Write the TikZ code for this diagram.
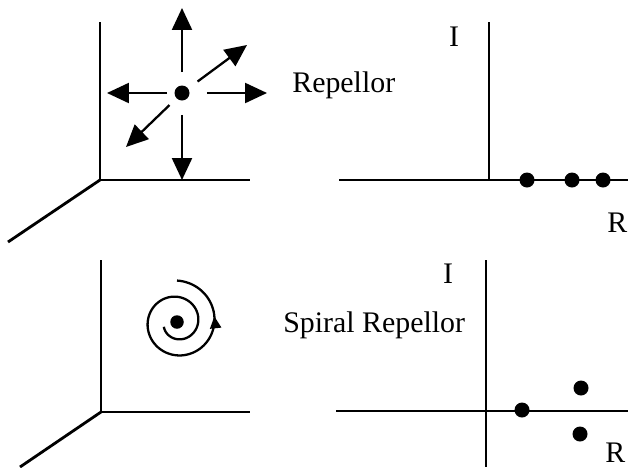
\documentclass[tikz,border=0pt]{standalone}
\usepackage{fontspec}
\setmainfont{Liberation Serif}
\usetikzlibrary{arrows.meta,positioning,decorations.markings}

\begin{document}
\begin{tikzpicture}[x=0.02cm,y=-0.02cm,
  axis/.style={line width=1.6pt},
  vec/.style={line width=1.3pt,-{Triangle[length=0.44cm,width=0.4cm]}},
  pt/.style={circle,fill,inner sep=0pt,minimum size=0.3cm},
  lbl/.style={font=\fontsize{17}{20}\selectfont,inner sep=0pt}]
  \useasboundingbox (0,0) rectangle (628,467);
  % repellor: phase space
  \coordinate (o1) at (100,180);
  \draw[axis] (100,22) -- (o1) -- (250,180);
  \draw[axis] (o1) -- (8,242);
  \node[pt] (rc) at (182,93) {};
  \coordinate (ru) at (182,8);
  \coordinate (rd) at (182,180);
  \coordinate (rl) at (107,93);
  \coordinate (rr) at (267,93);
  \coordinate (rne) at (247,45);
  \coordinate (rsw) at (126,147);
  \foreach \t/\g in {ru/0.26cm,rd/0.28cm,rl/0.14cm,rr/0.34cm,rne/0.23cm,rsw/0.19cm}
    \draw[vec,shorten <=\g] (rc) -- (\t);
  \node[lbl,anchor=base west] (rep) at (292,92) {Repellor};
  % repellor: eigenvalues
  \coordinate (o2) at (489,180);
  \draw[axis] (489,22) -- (o2);
  \draw[axis] (339,180) -- (628,180);
  \node[lbl,anchor=base] (im1) at (454,46) {I};
  \node[lbl,anchor=base west] (re1) at (607,232) {R};
  \foreach \x [count=\i] in {527,572,603}
    \node[pt] (ev\i) at (\x,180) {};
  % spiral repellor: phase space
  \coordinate (o3) at (101,412);
  \draw[axis] (101,260) -- (o3) -- (250,412);
  \draw[axis] (o3) -- (20,467);
  \node[pt,minimum size=0.27cm] (sc) at (177,322) {};
  \draw[line width=1.3pt,shift={(177,322)},postaction={decorate},
    decoration={markings,mark=at position 0.81 with {\arrow{Triangle[length=0.24cm,width=0.22cm]}}}]
    plot[domain=200:810,samples=150,variable=\t] (-\t:{14+0.045*(\t-200)});
  \node[lbl,anchor=base west] (srep) at (283,332) {Spiral Repellor};
  % spiral repellor: eigenvalues
  \coordinate (o4) at (486,411);
  \draw[axis] (486,260) -- (486,467);
  \draw[axis] (336,411) -- (628,411);
  \node[lbl,anchor=base] (im2) at (448,283) {I};
  \node[lbl,anchor=base west] (re2) at (605,462) {R};
  \node[pt] (sv1) at (522,410) {};
  \node[pt] (sv2) at (581,388) {};
  \node[pt] (sv3) at (580,434) {};
\end{tikzpicture}
\end{document}
